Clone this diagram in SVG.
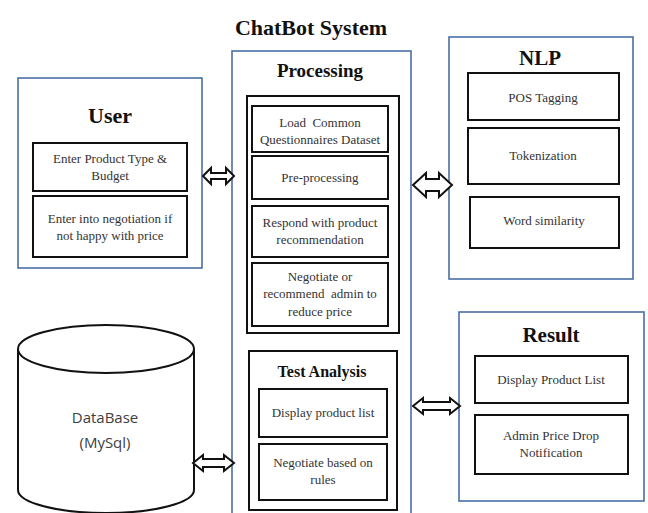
<svg xmlns="http://www.w3.org/2000/svg" width="648" height="513" viewBox="0 0 648 513">
<style>
.outer{fill:#fff;stroke:#4a6fa5;stroke-width:1.6}
.frame{fill:#fff;stroke:#111;stroke-width:2}
.box{fill:#fff;stroke:#111;stroke-width:2}
.title{font-family:"Liberation Serif",serif;font-weight:bold;fill:#111;text-anchor:middle}
.t{font-family:"Liberation Serif",serif;font-size:13px;fill:#333;text-anchor:middle}
.db{font-family:"Open Sans",sans-serif;font-size:15px;fill:#404040;text-anchor:middle}
.arr{fill:#fff;stroke:#111;stroke-width:2;stroke-linejoin:miter}
</style>
<rect width="648" height="513" fill="#fff"/>
<text class="title" x="311" y="35" font-size="22">ChatBot System</text>

<g id="user">
<rect class="outer" x="18" y="78" width="184" height="190"/>
<text class="title" x="110" y="123" font-size="22">User</text>
<rect class="box" x="33" y="143" width="154" height="48"/>
<text class="t" x="110" y="163">Enter Product Type &amp;</text>
<text class="t" x="110" y="180">Budget</text>
<rect class="box" x="33" y="196" width="154" height="61"/>
<text class="t" x="110" y="223">Enter into negotiation if</text>
<text class="t" x="110" y="240">not happy with price</text>
</g>

<g id="processing">
<rect class="outer" x="232" y="51" width="179" height="470"/>
<text class="title" x="320" y="77" font-size="19">Processing</text>
<rect class="frame" x="247" y="96" width="152" height="237"/>
<rect class="box" x="252" y="106" width="136" height="46"/>
<text class="t" x="320" y="127" xml:space="preserve">Load  Common</text>
<text class="t" x="320" y="144">Questionnaires Dataset</text>
<rect class="box" x="252" y="156" width="136" height="43"/>
<text class="t" x="320" y="182">Pre-processing</text>
<rect class="box" x="252" y="206" width="136" height="51"/>
<text class="t" x="320" y="227">Respond with product</text>
<text class="t" x="320" y="244">recommendation</text>
<rect class="box" x="252" y="263" width="136" height="63"/>
<text class="t" x="320" y="281">Negotiate or</text>
<text class="t" x="320" y="298" xml:space="preserve">recommend  admin to</text>
<text class="t" x="320" y="316">reduce price</text>
</g>

<g id="test-analysis">
<rect class="frame" x="249" y="351" width="148" height="159"/>
<text class="title" x="322" y="377" font-size="16">Test Analysis</text>
<rect class="box" x="259" y="389" width="128" height="48"/>
<text class="t" x="323" y="417">Display product list</text>
<rect class="box" x="259" y="444" width="128" height="56"/>
<text class="t" x="323" y="467">Negotiate based on</text>
<text class="t" x="323" y="484">rules</text>
</g>

<g id="nlp">
<rect class="outer" x="449" y="37" width="184" height="242"/>
<text class="title" x="540" y="65" font-size="21">NLP</text>
<rect class="box" x="468" y="73" width="151" height="47"/>
<text class="t" x="543" y="102">POS Tagging</text>
<rect class="box" x="468" y="128" width="151" height="56"/>
<text class="t" x="543" y="160">Tokenization</text>
<rect class="box" x="470" y="197" width="149" height="51"/>
<text class="t" x="544" y="225">Word similarity</text>
</g>

<g id="result">
<rect class="outer" x="459" y="312" width="185" height="189"/>
<text class="title" x="551" y="342" font-size="21">Result</text>
<rect class="box" x="475" y="356" width="153" height="47"/>
<text class="t" x="551" y="384">Display Product List</text>
<rect class="box" x="475" y="415" width="153" height="59"/>
<text class="t" x="551" y="440">Admin Price Drop</text>
<text class="t" x="551" y="457">Notification</text>
</g>

<g id="database">
<path d="M18,349 L18,490 A88,23 0 0 0 194,490 L194,349" fill="#fff" stroke="#111" stroke-width="2"/>
<ellipse cx="106" cy="349" rx="88" ry="24" fill="#fff" stroke="#111" stroke-width="2"/>
<text class="db" x="105" y="423">DataBase</text>
<text class="db" x="105" y="448">(MySql)</text>
</g>

<g id="connectors">
<polygon class="arr" points="203,176 211,168 211,173 226,173 226,168 234,176 226,184 226,179 211,179 211,184"/>
<polygon class="arr" points="413,185 426,173 426,179 439,179 439,173 452,185 439,197 439,191 426,191 426,197"/>
<polygon class="arr" points="413,406 423,398 423,402 450,402 450,398 460,406 450,414 450,410 423,410 423,414"/>
<polygon class="arr" points="193,463 203,455 203,459 224,459 224,455 234,463 224,471 224,467 203,467 203,471"/>
</g>
</svg>
